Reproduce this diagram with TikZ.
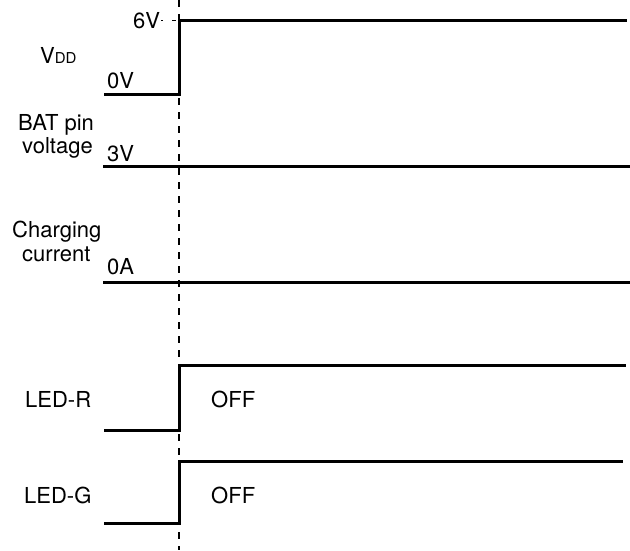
\documentclass[tikz,border=0pt]{standalone}
\usepackage{fontspec}
\setmainfont{TeX Gyre Heros}
\begin{document}
\begin{tikzpicture}[x=1pt,y=-1pt,
  lbl/.style={inner sep=0pt,anchor=base west,font=\fontsize{22}{25}\selectfont},
  wave/.style={line width=3pt,line cap=butt,line join=miter},
  marker/.style={line width=1.2pt,dash pattern=on 6.5pt off 7.5pt}]
\useasboundingbox (0,0) rectangle (630,550);
% time marker
\coordinate (mt) at (179,0);
\coordinate (mb) at (179,550);
\draw[marker] (mt) -- (mb);
% VDD
\coordinate (v0) at (104,94);
\coordinate (v1) at (179,94);
\coordinate (v2) at (179,20);
\coordinate (v3) at (627,20);
\draw[wave] (v0) -- (v1) -- (v2) -- (v3);
\node[lbl] (six) at (133,28) {6V};
\coordinate (d0) at (161,20.5);
\coordinate (d1) at (178,20.5);
\draw[line width=1.2pt,dash pattern=on 1.5pt off 9.5pt on 4pt off 10pt] (d0) -- (d1);
\node[inner sep=0pt,anchor=base west] (vdd) at (40,63) {\fontsize{22}{25}\selectfont V\fontsize{15}{17}\selectfont DD};
\node[lbl] (zv) at (107,88) {0V};
% BAT pin voltage
\coordinate (b0) at (103,166);
\coordinate (b1) at (630,166);
\draw[wave] (b0) -- (b1);
\node[lbl] (bat1) at (18,130) {BAT pin};
\node[lbl] (bat2) at (22,153) {voltage};
\node[lbl] (tv) at (107,161) {3V};
% Charging current
\coordinate (c0) at (103,282);
\coordinate (c1) at (630,282);
\draw[wave] (c0) -- (c1);
\node[lbl] (ch1) at (12,237) {Charging};
\node[lbl] (ch2) at (22,261) {current};
\node[lbl] (za) at (107,274) {0A};
% LED-R
\coordinate (r0) at (104,430);
\coordinate (r1) at (179,430);
\coordinate (r2) at (179,365);
\coordinate (r3) at (626,365);
\draw[wave] (r0) -- (r1) -- (r2) -- (r3);
\node[lbl] (ledr) at (25,407) {LED-R};
\node[lbl] (offr) at (211,407) {OFF};
% LED-G
\coordinate (g0) at (104,523);
\coordinate (g1) at (179,523);
\coordinate (g2) at (179,461);
\coordinate (g3) at (623,461);
\draw[wave] (g0) -- (g1) -- (g2) -- (g3);
\node[lbl] (ledg) at (24,503) {LED-G};
\node[lbl] (offg) at (211,503) {OFF};
\end{tikzpicture}
\end{document}
